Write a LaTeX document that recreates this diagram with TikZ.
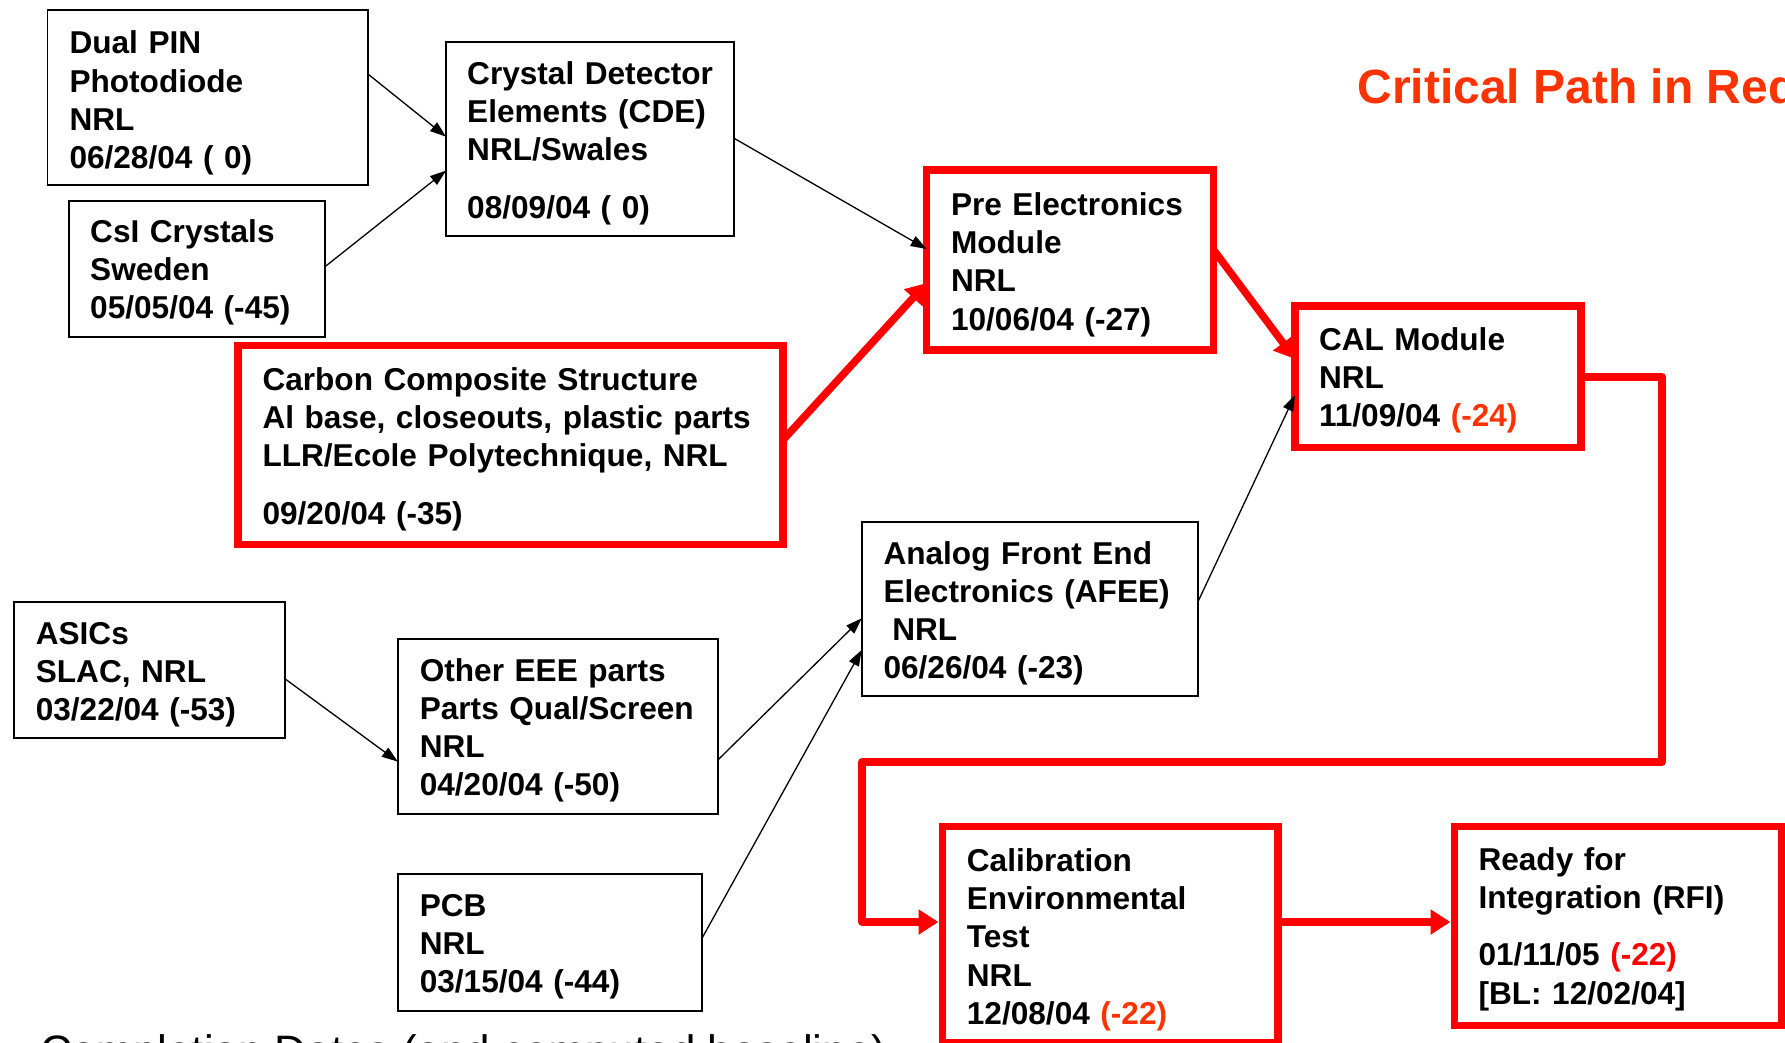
\documentclass[tikz,border=0pt]{standalone}
\usepackage{fontspec}
\setmainfont{Liberation Sans}
\usetikzlibrary{arrows.meta,calc}
\definecolor{critred}{HTML}{FF0000}
\definecolor{critorange}{HTML}{FF3300}

\tikzset{
  task/.style={draw=black, line width=1.8pt, rectangle, anchor=north west,
    inner sep=0pt, outer sep=0pt},
  crit/.style={draw=critred, line width=7.5pt, rectangle, anchor=north west,
    inner sep=0pt, outer sep=0pt},
  boxtext/.style={anchor=base west, inner sep=0pt, text width=600pt, align=left,
    font=\fontsize{31.6}{38.2}\selectfont\bfseries},
  link/.style={draw=black, line width=1.3pt, -{Triangle[length=16pt,width=11pt]}},
  critlink/.style={draw=critred, line width=7.5pt, line join=round,
    -{Triangle[length=20pt,width=24pt]}},
}

\begin{document}
\begin{tikzpicture}[x=1pt,y=-1pt]
\useasboundingbox (0,0) rectangle (1785,1042);
\clip (0,0) rectangle (1785,1042);

% ---- task boxes ----
\node[task, minimum width=320.5pt, minimum height=175pt]   (dual)   at (47.5,10)    {};
\node[task, minimum width=255.7pt, minimum height=136pt]   (csi)    at (69.3,201)   {};
\node[task, minimum width=288pt,   minimum height=194pt]   (cde)    at (446,42)     {};
\node[crit, minimum width=545pt,   minimum height=199pt]   (carbon) at (238,345.5)  {};
\node[crit, minimum width=286.9pt, minimum height=180pt]   (pre)    at (926.7,170)  {};
\node[crit, minimum width=286pt,   minimum height=141.7pt] (cal)    at (1295,306)   {};
\node[task, minimum width=336.6pt, minimum height=173.7pt] (afee)   at (861.7,522.3){};
\node[task, minimum width=271.5pt, minimum height=136.6pt] (asics)  at (13.8,601.7) {};
\node[task, minimum width=320.2pt, minimum height=174.7pt] (other)  at (397.8,639.3){};
\node[task, minimum width=304.2pt, minimum height=136.7pt] (pcb)    at (397.8,874)  {};
\node[crit, minimum width=335.5pt, minimum height=216.5pt] (calib)  at (942.5,826.3){};
\node[crit, minimum width=327.5pt, minimum height=199.2pt] (rfi)    at (1454.5,826.3){};

% ---- box texts ----
\node[boxtext] (dual-t)   at (69.3,53.8)   {Dual PIN\\Photodiode\\NRL\\06/28/04 ( 0)};
\node[boxtext] (csi-t)    at (90,242.5)    {CsI Crystals\\Sweden\\05/05/04 (-45)};
\node[boxtext] (cde-t)    at (467,84.5)    {Crystal Detector\\Elements (CDE)\\NRL/Swales\\[19pt]08/09/04 ( 0)};
\node[boxtext] (carbon-t) at (262.3,390.5) {Carbon Composite Structure\\Al base, closeouts, plastic parts\\LLR/Ecole Polytechnique, NRL\\[19pt]09/20/04 (-35)};
\node[boxtext] (pre-t)    at (950.8,215.5) {Pre Electronics\\Module\\NRL\\10/06/04 (-27)};
\node[boxtext] (cal-t)    at (1318.8,350)  {CAL Module\\NRL\\11/09/04 \textcolor{critorange}{(-24)}};
\node[boxtext] (afee-t)   at (883.3,564)   {Analog Front End\\Electronics (AFEE)\\\hspace*{0.28em}NRL\\06/26/04 (-23)};
\node[boxtext] (asics-t)  at (35.6,644)    {ASICs\\SLAC, NRL\\03/22/04 (-53)};
\node[boxtext] (other-t)  at (419.6,681)   {Other EEE parts\\Parts Qual/Screen\\NRL\\04/20/04 (-50)};
\node[boxtext] (pcb-t)    at (419.6,916)   {PCB\\NRL\\03/15/04 (-44)};
\node[boxtext] (calib-t)  at (966.7,871.5) {Calibration\\Environmental\\Test\\NRL\\12/08/04 \textcolor{critorange}{(-22)}};
\node[boxtext] (rfi-t)    at (1478.3,870.5){Ready for\\Integration (RFI)\\[19pt]01/11/05 \textcolor{critred}{(-22)}\\{}[BL: 12/02/04]};

% ---- headings ----
\node[anchor=base west, inner sep=0pt, text=critorange,
      font=\fontsize{48}{56}\selectfont\bfseries] (title) at (1357.3,103.3) {Critical Path in Red};
\node[anchor=base west, inner sep=0pt,
      font=\fontsize{44}{52}\selectfont] (note) at (40,1066) {Completion Dates (and computed baseline)};

% ---- ordinary dependencies ----
\draw[link] ($(dual.north east)!0.366!(dual.south east)$) -- ($(cde.north west)!0.488!(cde.south west)$);
\draw[link] ($(csi.north east)!0.483!(csi.south east)$)   -- ($(cde.north west)!0.663!(cde.south west)$);
\draw[link] ($(cde.north east)!0.496!(cde.south east)$)   -- ($(pre.north west)!0.439!(pre.south west)$);
\draw[link] ($(afee.north east)!0.453!(afee.south east)$) -- ($(cal.north west)!0.628!(cal.south west)$);
\draw[link] ($(asics.north east)!0.566!(asics.south east)$) -- ($(other.north west)!0.70!(other.south west)$);
\draw[link] ($(other.north east)!0.69!(other.south east)$) -- ($(afee.north west)!0.553!(afee.south west)$);
\draw[link] ($(pcb.north east)!0.47!(pcb.south east)$)     -- ($(afee.north west)!0.735!(afee.south west)$);

% ---- critical path ----
\coordinate (bendR) at (1662,762);
\coordinate (bendL) at (862,762);
\coordinate (crow)  at (0,922);
\draw[critlink] ($(carbon.north east)!0.475!(carbon.south east)$) -- ($(pre.north west)!0.628!(pre.south west)$);
\draw[critlink] ($(pre.north east)!0.444!(pre.south east)$) -- ($(cal.north west)!0.374!(cal.south west)$);
\draw[critlink, shorten >=4pt] (cal.east) -| (bendR) -- (bendL) |- (calib.west |- crow);
\draw[critlink, shorten >=4pt] (calib.east |- crow) -- (rfi.west |- crow);
\end{tikzpicture}
\end{document}
